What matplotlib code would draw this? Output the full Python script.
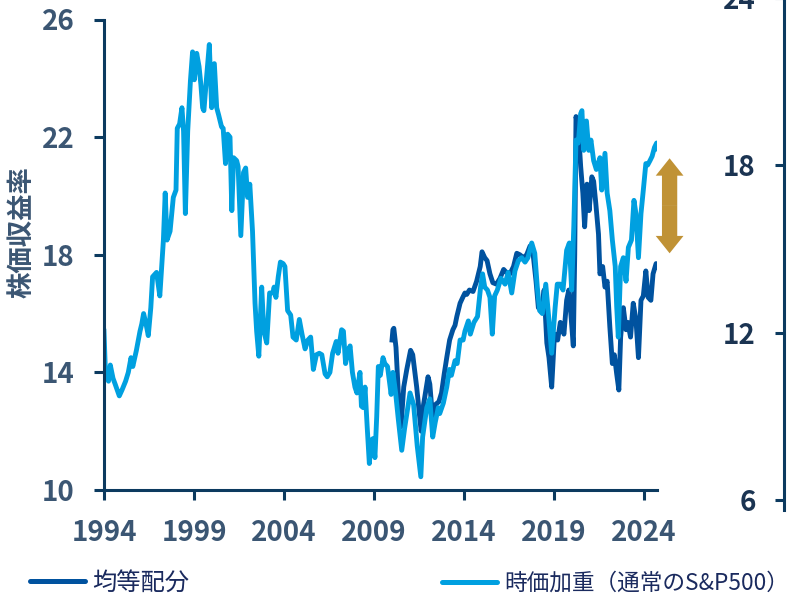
import matplotlib
matplotlib.use("Agg")
import matplotlib.pyplot as plt

plt.rcParams['font.family'] = ['Noto Sans CJK JP', 'DejaVu Sans']

# === Data ===
cap_years = [
    1994.00, 1994.08, 1994.25, 1994.35, 1994.50, 1994.62, 1994.85, 1995.00, 1995.20, 1995.35,
    1995.50, 1995.60, 1995.80, 1996.00, 1996.10, 1996.20, 1996.35, 1996.46, 1996.60, 1996.70,
    1996.92, 1997.10, 1997.30, 1997.40, 1997.50, 1997.67, 1997.85, 1998.00, 1998.07, 1998.20,
    1998.33, 1998.42, 1998.52, 1998.65, 1998.80, 1998.92, 1999.02, 1999.15, 1999.28, 1999.38,
    1999.48, 1999.55, 1999.70, 1999.85, 1999.98, 2000.13, 2000.26, 2000.37, 2000.53, 2000.62,
    2000.75, 2000.87, 2001.00, 2001.10, 2001.20, 2001.37, 2001.45, 2001.60, 2001.75, 2001.87,
    2001.98, 2002.10, 2002.25, 2002.39, 2002.48, 2002.60, 2002.76, 2002.88, 2003.04, 2003.20,
    2003.38, 2003.45, 2003.55, 2003.68, 2003.80, 2003.95, 2004.05, 2004.20, 2004.37, 2004.50,
    2004.68, 2004.85, 2005.00, 2005.17, 2005.33, 2005.48, 2005.63, 2005.80, 2005.96, 2006.10,
    2006.28, 2006.40, 2006.55, 2006.70, 2006.90, 2007.00, 2007.20, 2007.30, 2007.42, 2007.55,
    2007.67, 2007.80, 2007.94, 2008.05, 2008.22, 2008.30, 2008.40, 2008.50, 2008.62, 2008.74,
    2008.85, 2008.95, 2009.05, 2009.15, 2009.24, 2009.35, 2009.50, 2009.60, 2009.75, 2009.95,
    2010.05, 2010.20, 2010.35, 2010.54, 2010.70, 2011.00, 2011.20, 2011.40, 2011.60, 2011.70,
    2011.93, 2012.10, 2012.26, 2012.40, 2012.57, 2012.65, 2012.85, 2013.04, 2013.19, 2013.30,
    2013.50, 2013.62, 2013.78, 2013.95, 2014.05, 2014.24, 2014.35, 2014.55, 2014.75, 2014.92,
    2015.03, 2015.15, 2015.30, 2015.44, 2015.57, 2015.70, 2015.85, 2016.05, 2016.28, 2016.45,
    2016.65, 2016.83, 2017.02, 2017.20, 2017.39, 2017.55, 2017.76, 2017.93, 2018.07, 2018.20,
    2018.35, 2018.54, 2018.70, 2018.87, 2019.06, 2019.18, 2019.35, 2019.50, 2019.70, 2019.85,
    2019.98, 2020.10, 2020.22, 2020.35, 2020.48, 2020.55, 2020.65, 2020.80, 2020.93, 2021.05,
    2021.20, 2021.35, 2021.55, 2021.65, 2021.83, 2021.95, 2022.10, 2022.24, 2022.40, 2022.48,
    2022.57, 2022.70, 2022.85, 2023.00, 2023.13, 2023.30, 2023.44, 2023.55, 2023.69, 2023.83,
    2023.96, 2024.10, 2024.20, 2024.33, 2024.45, 2024.58, 2024.70, 2024.75,
]
cap_pe = [
    15.4, 14.0, 13.7, 14.25, 13.8, 13.6, 13.2, 13.4, 13.7, 14.0,
    14.5, 14.2, 14.75, 15.4, 15.65, 16.0, 15.6, 15.25, 16.2, 17.25,
    17.4, 16.6, 18.5, 20.1, 18.5, 18.8, 19.95, 20.2, 22.3, 22.45,
    23.0, 22.2, 19.4, 22.2, 23.9, 24.9, 23.95, 24.85, 24.4, 23.8,
    23.0, 22.9, 24.05, 25.15, 23.0, 24.5, 23.0, 22.75, 22.35, 22.3,
    21.1, 22.1, 22.0, 19.5, 21.3, 21.2, 21.0, 18.65, 20.8, 20.95,
    19.95, 20.4, 18.8, 16.35, 15.4, 14.55, 16.9, 15.4, 15.0, 16.7,
    16.7, 16.9, 16.55, 17.25, 17.75, 17.7, 17.6, 16.1, 15.95, 15.2,
    15.1, 15.8, 15.3, 14.8, 15.1, 15.2, 14.1, 14.6, 14.65, 14.6,
    13.95, 13.85, 14.0, 14.65, 15.05, 14.65, 15.45, 15.4, 14.3, 14.7,
    14.9, 14.0, 13.5, 13.3, 14.0, 12.85, 12.8, 13.5, 12.15, 10.9,
    11.7, 11.75, 11.1, 12.5, 14.2, 13.9, 14.5, 14.3, 14.2, 13.25,
    14.0, 13.3, 12.4, 11.35, 12.1, 13.3, 12.9, 11.5, 10.45, 11.8,
    12.8, 13.1, 11.8, 12.3, 12.8, 12.6, 12.95, 13.5, 14.1, 13.9,
    14.4, 14.3, 15.1, 15.1, 15.4, 15.75, 15.3, 15.7, 15.9, 16.9,
    17.35, 16.9, 16.8, 16.55, 15.3, 16.6, 16.8, 17.2, 17.0, 17.4,
    16.7, 17.45, 17.8, 17.9, 17.75, 17.9, 18.4, 18.05, 16.9, 16.1,
    16.0, 17.0, 15.9, 14.65, 16.2, 17.0, 17.0, 16.8, 18.15, 18.4,
    16.8, 19.0, 21.9, 21.8, 22.8, 22.9, 21.55, 22.55, 21.55, 21.9,
    21.2, 20.9, 21.3, 20.2, 21.45, 20.1, 19.5, 18.5, 17.6, 16.25,
    15.2, 17.6, 17.9, 17.1, 18.25, 18.5, 19.85, 19.4, 17.9, 19.4,
    20.2, 21.1, 21.05, 21.2, 21.35, 21.65, 21.8, 21.6,
]

eq_years = [
    2010.00, 2010.05, 2010.10, 2010.22, 2010.35, 2010.50, 2010.65, 2010.82, 2011.03, 2011.15,
    2011.37, 2011.55, 2011.62, 2011.75, 2012.00, 2012.10, 2012.26, 2012.40, 2012.60, 2012.75,
    2012.90, 2013.04, 2013.20, 2013.38, 2013.50, 2013.60, 2013.78, 2013.93, 2014.05, 2014.15,
    2014.30, 2014.50, 2014.70, 2014.90, 2015.00, 2015.15, 2015.28, 2015.44, 2015.60, 2015.80,
    2016.00, 2016.20, 2016.35, 2016.55, 2016.75, 2016.93, 2017.10, 2017.30, 2017.48, 2017.67,
    2017.85, 2018.00, 2018.13, 2018.30, 2018.45, 2018.60, 2018.72, 2018.87, 2019.00, 2019.06,
    2019.20, 2019.35, 2019.55, 2019.70, 2019.82, 2019.92, 2020.07, 2020.15, 2020.22, 2020.35,
    2020.48, 2020.60, 2020.70, 2020.83, 2020.95, 2021.10, 2021.20, 2021.32, 2021.47, 2021.55,
    2021.70, 2021.83, 2021.95, 2022.10, 2022.24, 2022.35, 2022.48, 2022.60, 2022.70, 2022.85,
    2023.00, 2023.10, 2023.25, 2023.40, 2023.55, 2023.69, 2023.83, 2023.96, 2024.10, 2024.23,
    2024.38, 2024.50, 2024.67, 2024.75,
]
eq_pe = [
    15.1, 15.45, 15.5, 14.85, 13.3, 12.15, 13.5, 14.1, 14.75, 14.6,
    13.5, 12.4, 12.0, 12.9, 13.85, 13.6, 12.4, 12.9, 13.0, 13.3,
    13.95, 14.5, 15.1, 15.45, 15.6, 15.9, 16.35, 16.55, 16.7, 16.65,
    16.8, 16.75, 17.1, 17.6, 18.1, 17.9, 17.8, 17.35, 17.05, 17.0,
    17.2, 17.5, 17.4, 17.35, 17.6, 18.05, 18.0, 17.9, 18.0, 18.3,
    17.95, 17.1, 16.2, 16.1, 16.8, 15.0, 14.5, 13.5, 15.0, 15.3,
    15.1, 15.7, 15.3, 16.45, 16.8, 16.1, 14.9, 18.0, 22.7, 22.3,
    21.0, 20.1, 18.95, 20.4, 19.5, 20.65, 20.5, 19.75, 18.7, 17.35,
    17.6, 16.9, 17.1, 15.55, 14.3, 14.6, 13.95, 13.4, 15.2, 16.2,
    15.45, 15.7, 15.2, 16.35, 15.8, 14.5, 16.45, 16.6, 17.45, 16.55,
    16.45, 17.35, 17.7, 17.6,
]

x_ticks = [1994, 1999, 2004, 2009, 2014, 2019, 2024]
left_ticks = [10, 14, 18, 22, 26]
right_ticks = [6, 12, 18, 24]

# === Colours ===
dark_blue = '#00529f'
light_blue = '#00a0e0'
gold = '#c09235'
spine_col = '#0c3a5f'
label_col = '#3b5673'
right_col = '#1b3452'
legend_col = '#1a2a5e'

W, H = 789, 594
fig = plt.figure(figsize=(W / 100, H / 100), dpi=100)

# main axes
ax = fig.add_axes([104 / W, 1 - 490 / H, (657 - 104) / W, (490 - 19.5) / H])
ax.plot(eq_years, eq_pe, color=dark_blue, lw=3.5, solid_joinstyle='round')
ax.plot(cap_years, cap_pe, color=light_blue, lw=3.5, solid_joinstyle='round')
ax.set_xlim(1994, 2024.72)
ax.set_ylim(10, 26)
ax.set_xticks(x_ticks)
ax.set_yticks(left_ticks)
for s in ['top', 'right']:
    ax.spines[s].set_visible(False)
for s in ['left', 'bottom']:
    ax.spines[s].set_color(spine_col)
    ax.spines[s].set_linewidth(2.2)
ax.tick_params(axis='both', length=7.2, width=2.2, color=spine_col,
               labelsize=20, labelcolor=label_col)
ax.tick_params(axis='y', pad=14)
ax.tick_params(axis='x', pad=14)
for lab in ax.get_xticklabels() + ax.get_yticklabels():
    lab.set_fontweight('bold')

# double-headed arrow on the right of the lines
mid = 19.66
for end in (21.28, 18.05):
    ax.annotate('', xy=(2025.42, end), xytext=(2025.42, mid),
                arrowprops=dict(arrowstyle='simple,head_length=1.25,head_width=2.0,tail_width=1.1',
                                color=gold, mutation_scale=10, shrinkA=0, shrinkB=0, lw=0),
                annotation_clip=False)

# right-hand scale (separate spine)
px_per = (500 - 332.7) / 6
bottom_px = 510
lo = 6 - (bottom_px - 500) / px_per
hi = 24.3
axr = fig.add_axes([784 / W, 1 - bottom_px / H, 0.001, (hi - lo) * px_per / H])
axr.set_ylim(lo, hi)
axr.set_xticks([])
axr.set_yticks(right_ticks)
axr.patch.set_visible(False)
for s in ['top', 'right', 'bottom']:
    axr.spines[s].set_visible(False)
axr.spines['left'].set_color(spine_col)
axr.spines['left'].set_linewidth(2.2)
axr.tick_params(axis='y', length=6.5, width=2.2, color=spine_col, labelsize=20,
                labelcolor=right_col, pad=14)
for lab in axr.get_yticklabels():
    lab.set_fontweight('bold')

# y label
fig.text(22 / W, 1 - 232 / H, '株価収益率', rotation=90, ha='center', va='center',
         fontsize=19, fontweight='bold', color=label_col)

# legends
h1, = ax.plot([], [], color=dark_blue, lw=3.6, solid_capstyle='round')
h2, = ax.plot([], [], color=light_blue, lw=3.6, solid_capstyle='round')
for h, txt, xl, fs, hl in [(h1, '均等配分', 30, 17.5, 2.25),
                           (h2, '時価加重（通常のS&P500）', 442, 16.3, 2.45)]:
    leg = fig.legend([h], [txt], loc='center left', bbox_to_anchor=(xl / W, 1 - 583 / H),
                     frameon=False, fontsize=fs, handlelength=hl, handletextpad=0.3,
                     borderpad=0, borderaxespad=0)
    for t in leg.get_texts():
        t.set_color(legend_col)

fig.savefig('out.png', dpi=100)
